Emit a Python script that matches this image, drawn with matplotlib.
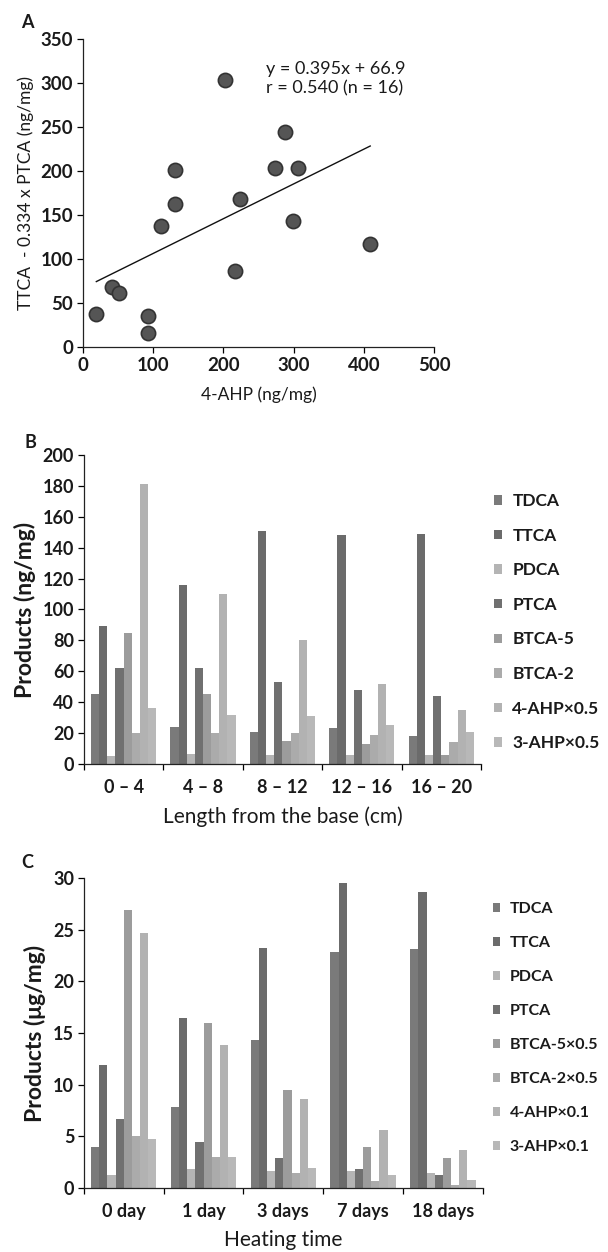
import numpy as np
import matplotlib
matplotlib.use('Agg')
import matplotlib.pyplot as plt

plt.rcParams['font.family'] = ['Lato', 'DejaVu Sans']

# === Panel A data ===
ahp4 = [19, 42, 51, 93, 92, 111, 131, 131, 202, 217, 223, 273, 288, 299, 306, 409]
ttca_ptca = [37, 68, 61, 35, 16, 137, 201, 163, 303, 86, 168, 203, 244, 143, 203, 117]
slope, intercept = 0.395, 66.9

# === Panel B / C data ===
series_b = ['TDCA', 'TTCA', 'PDCA', 'PTCA', 'BTCA-5', 'BTCA-2',
            '4-AHP\u00d70.5', '3-AHP\u00d70.5']
series_c = ['TDCA', 'TTCA', 'PDCA', 'PTCA', 'BTCA-5\u00d70.5', 'BTCA-2\u00d70.5',
            '4-AHP\u00d70.1', '3-AHP\u00d70.1']
groups_b = ['0 \u2013 4', '4 \u2013 8', '8 \u2013 12', '12 \u2013 16', '16 \u2013 20']
groups_c = ['0 day', '1 day', '3 days', '7 days', '18 days']

# rows = series, columns = groups
vals_b = [
    [45, 24, 21, 23, 18],      # TDCA
    [89, 116, 151, 148, 149],  # TTCA
    [5, 6.5, 6, 6, 6],         # PDCA
    [62, 62, 53, 48, 44],      # PTCA
    [85, 45, 15, 13, 6],       # BTCA-5
    [20, 20, 20, 19, 14],      # BTCA-2
    [181, 110, 80, 52, 35],    # 4-AHP x0.5
    [36, 32, 31, 25, 21],      # 3-AHP x0.5
]
vals_c = [
    [4.0, 7.8, 14.3, 22.8, 23.1],
    [11.9, 16.5, 23.2, 29.5, 28.6],
    [1.3, 1.8, 1.6, 1.6, 1.5],
    [6.7, 4.5, 2.9, 1.8, 1.3],
    [26.9, 16.0, 9.5, 4.0, 2.9],
    [5.0, 3.0, 1.5, 0.7, 0.3],
    [24.7, 13.8, 8.6, 5.6, 3.7],
    [4.7, 3.0, 1.9, 1.3, 0.8],
]

bar_colors = ['#7a7a7a', '#6b6b6b', '#b4b4b4', '#707070',
              '#9c9c9c', '#ababab', '#b2b2b2', '#b8b8b8']
txt = '#1a1a1a'
W = 'bold'

fig = plt.figure(figsize=(6.08, 12.52), dpi=100)


def style_axes(ax):
    for s in ['top', 'right']:
        ax.spines[s].set_visible(False)
    for s in ['left', 'bottom']:
        ax.spines[s].set_linewidth(0.9)
        ax.spines[s].set_color('#222222')


# === Panel A: scatter ===
axA = fig.add_axes([0.1365, 0.7228, 0.5775, 0.2460])
style_axes(axA)
axA.scatter(ahp4, ttca_ptca, s=105, color='#555555', edgecolor='#333333',
            linewidth=1.2, zorder=3)
xs = np.array([min(ahp4), max(ahp4)])
axA.plot(xs, slope * xs + intercept, color='#111111', lw=1.0)
axA.set_xlim(0, 500)
axA.set_ylim(0, 350)
axA.set_xticks(range(0, 501, 100))
axA.set_yticks(range(0, 351, 50))
axA.tick_params(direction='out', length=4, width=0.9, labelsize=13.5,
                labelcolor=txt, pad=3)
for lab in axA.get_xticklabels() + axA.get_yticklabels():
    lab.set_fontweight(W)
axA.set_xlabel('4-AHP (ng/mg)', fontsize=12.5, color=txt, labelpad=9)
axA.set_ylabel('TTCA  - 0.334 x PTCA (ng/mg)', fontsize=12.5, color=txt,
               labelpad=5)
axA.text(0.52, 0.93, 'y = 0.395x + 66.9\nr = 0.540 (n = 16)',
         transform=axA.transAxes, fontsize=13, color=txt, va='top',
         linespacing=1.25)
fig.text(27 / 608, 1 - 23 / 1252, 'A', fontsize=13, fontweight='bold',
         ha='center', va='center', color=txt)


# === Panels B and C: grouped bars ===
def grouped_bars(rect, vals, series, groups, ymax, ystep, ylabel, xlabel,
                 letter, letter_xy, legend_y, leg_size, leg_space):
    ax = fig.add_axes(rect)
    style_axes(ax)
    n = len(series)
    width = 0.82 / n
    centers = np.arange(len(groups)) + 0.5
    handles = []
    for i, (name, row) in enumerate(zip(series, vals)):
        pos = centers - 0.41 + width * (i + 0.5)
        h = ax.bar(pos, row, width=width, color=bar_colors[i], label=name,
                   linewidth=0)
        handles.append(h)
    ax.set_xlim(0, len(groups))
    ax.set_ylim(0, ymax)
    ax.set_yticks(np.arange(0, ymax + 0.1, ystep))
    ax.set_xticks(centers)
    ax.set_xticklabels(groups)
    ax.set_xticks(np.arange(len(groups) + 1), minor=True)
    ax.tick_params(axis='x', which='major', length=0, pad=11)
    ax.tick_params(axis='x', which='minor', length=4, width=0.9,
                   direction='out')
    ax.tick_params(axis='y', length=4, width=0.9, direction='out', pad=3)
    ax.tick_params(labelsize=13, labelcolor=txt)
    for lab in ax.get_xticklabels() + ax.get_yticklabels():
        lab.set_fontweight(W)
    ax.set_ylabel(ylabel, fontsize=16.5, color=txt, labelpad=5,
                  fontweight=W)
    ax.set_xlabel(xlabel, fontsize=15, color=txt, labelpad=7)
    fig.text(letter_xy[0] / 608, 1 - letter_xy[1] / 1252, letter, fontsize=13,
             fontweight='bold', ha='center', va='center', color=txt)
    fig.legend(handles=handles, loc='upper left',
               bbox_to_anchor=(482 / 608, 1 - legend_y / 1252),
               frameon=False, handlelength=0.45, handleheight=0.45,
               handletextpad=0.6, labelspacing=leg_space,
               prop={'size': leg_size, 'weight': W}, labelcolor=txt,
               borderaxespad=0.3)
    return ax


grouped_bars([0.138, 0.3898, 0.653, 0.2468], vals_b, series_b, groups_b,
             200, 20, 'Products (ng/mg)', 'Length from the base (cm)',
             'B', (30, 443), 481, 12.5, 1.07)
grouped_bars([0.138, 0.0511, 0.656, 0.2476], vals_c, series_c, groups_c,
             30, 5, 'Products (\u03bcg/mg)', 'Heating time',
             'C', (27, 863), 891, 11.5, 1.25)

fig.savefig('out.png', dpi=100)
